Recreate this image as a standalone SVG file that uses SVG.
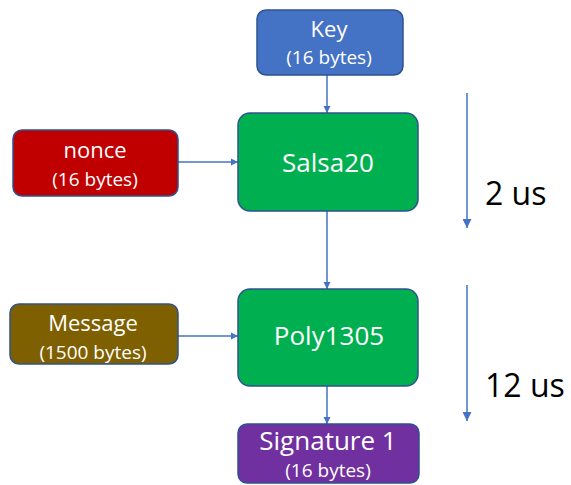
<svg xmlns="http://www.w3.org/2000/svg" width="571" height="485" viewBox="0 0 571 485">
  <defs>
    <marker id="arr" viewBox="0 0 10 10" refX="10" refY="5" markerWidth="5" markerHeight="5" orient="auto" markerUnits="strokeWidth">
      <path d="M0,0 L10,5 L0,10 z" fill="#4472C4"/>
    </marker>
    <marker id="arrBig" viewBox="0 0 10 10" refX="10" refY="5" markerWidth="6" markerHeight="6" orient="auto" markerUnits="strokeWidth">
      <path d="M0,0 L10,5 L0,10 z" fill="#4472C4"/>
    </marker>
    <style>
      .box { stroke: #2F528F; stroke-width: 1.5; }
      .t { font-family: "Open Sans", "Liberation Sans", sans-serif; fill: #ffffff; text-anchor: middle; }
      .big { font-size: 26px; }
      .mid { font-size: 22px; }
      .sub { font-size: 19px; }
      .time { font-family: "Open Sans", "Liberation Sans", sans-serif; font-size: 32px; fill: #000000; }
      .conn { stroke: #4472C4; stroke-width: 1.5; fill: none; }
    </style>
  </defs>
  <rect width="571" height="485" fill="#ffffff"/>

  <g id="connectors">
    <line class="conn" x1="327" y1="75" x2="327" y2="113" marker-end="url(#arr)"/>
    <line class="conn" x1="178" y1="162" x2="238" y2="162" marker-end="url(#arr)"/>
    <line class="conn" x1="327" y1="211" x2="327" y2="289" marker-end="url(#arr)"/>
    <line class="conn" x1="178" y1="336" x2="238" y2="336" marker-end="url(#arr)"/>
    <line class="conn" x1="327" y1="386" x2="327" y2="424" marker-end="url(#arr)"/>
    <line class="conn" x1="467" y1="93" x2="467" y2="228" marker-end="url(#arrBig)"/>
    <line class="conn" x1="467" y1="285" x2="467" y2="421" marker-end="url(#arrBig)"/>
  </g>

  <g id="key">
    <rect class="box" x="257" y="10" width="146" height="65" rx="9" fill="#4472C4"/>
    <text class="t mid" x="329" y="37">Key</text>
    <text class="t sub" x="329" y="64">(16 bytes)</text>
  </g>

  <g id="nonce">
    <rect class="box" x="13" y="130" width="165" height="66" rx="9" fill="#C00000"/>
    <text class="t mid" x="95" y="158">nonce</text>
    <text class="t sub" x="95" y="186">(16 bytes)</text>
  </g>

  <g id="salsa20">
    <rect class="box" x="238" y="113" width="180" height="98" rx="12" fill="#00B050"/>
    <text class="t big" x="328" y="172">Salsa20</text>
  </g>

  <g id="message">
    <rect class="box" x="10" y="304" width="168" height="60" rx="9" fill="#7F6000"/>
    <text class="t mid" x="93" y="331">Message</text>
    <text class="t sub" x="93" y="359">(1500 bytes)</text>
  </g>

  <g id="poly1305">
    <rect class="box" x="238" y="289" width="180" height="97" rx="12" fill="#00B050"/>
    <text class="t big" x="329" y="345">Poly1305</text>
  </g>

  <g id="signature">
    <rect class="box" x="238" y="424" width="181" height="59" rx="9" fill="#7030A0"/>
    <text class="t big" x="328" y="450">Signature 1</text>
    <text class="t sub" x="328" y="477">(16 bytes)</text>
  </g>

  <g id="timing">
    <text class="time" x="485" y="205">2 us</text>
    <text class="time" x="485" y="397">12 us</text>
  </g>
</svg>
